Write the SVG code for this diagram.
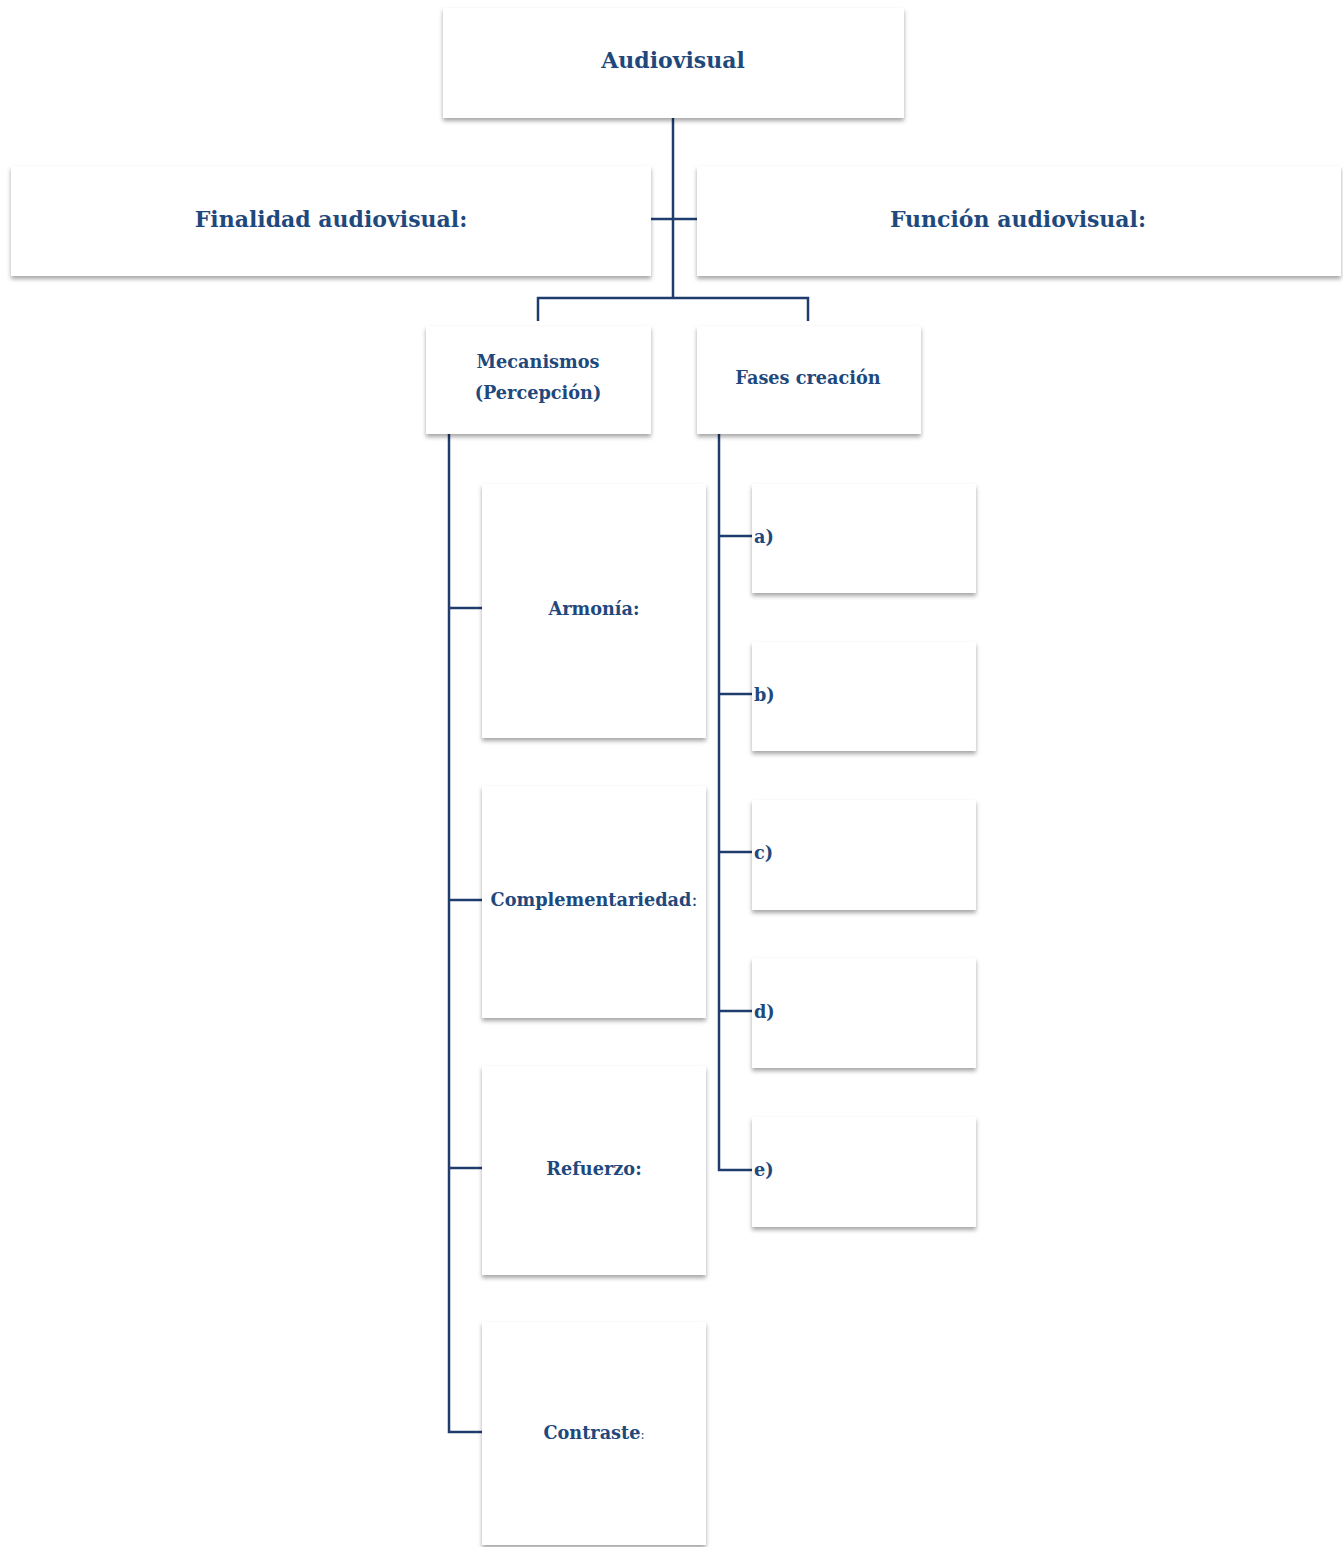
<svg xmlns="http://www.w3.org/2000/svg" width="1343" height="1547" viewBox="0 0 1343 1547">
<style>
.box{fill:#ffffff;filter:url(#sh);}
.t{font-family:"DejaVu Serif","Liberation Serif",serif;font-weight:bold;fill:#1f497d;}
.big{font-size:22px;}
.sm{font-size:17.7px;}
.c{text-anchor:middle;}
.ln{stroke:#1f3c6e;stroke-width:2.5;fill:none;}
.lt{font-weight:normal;}
</style>
<defs>
<filter id="sh" x="-10%" y="-10%" width="120%" height="130%">
<feDropShadow dx="0" dy="3" stdDeviation="2" flood-color="#000" flood-opacity="0.35"/>
</filter>
</defs>
<rect width="1343" height="1547" fill="#ffffff"/>
<g id="connectors">
<path class="ln" d="M673,118 V298"/>
<path class="ln" d="M651,219 H697" stroke-width="2"/>
<path class="ln" d="M538,321 V298 H808 V321"/>
<path class="ln" d="M449,434 V1432 H482"/>
<path class="ln" d="M449,608 H482 M449,900 H482 M449,1168 H482"/>
<path class="ln" d="M719,434 V1170 H752"/>
<path class="ln" d="M719,536 H752 M719,694 H752 M719,852 H752 M719,1011 H752"/>
</g>
<g id="n-audiovisual"><rect class="box" x="443" y="8" width="461" height="110"/><text class="t big c" x="673" y="68">Audiovisual</text></g>
<g id="n-finalidad"><rect class="box" x="11" y="166" width="640" height="110"/><text class="t big c" x="331" y="227">Finalidad audiovisual:</text></g>
<g id="n-funcion"><rect class="box" x="697" y="166" width="644" height="110"/><text class="t big c" x="1018" y="227">Función audiovisual:</text></g>
<g id="n-mecanismos"><rect class="box" x="426" y="326" width="225" height="108"/><text class="t sm c" x="538" y="368">Mecanismos</text><text class="t sm c" x="538" y="399">(Percepción)</text></g>
<g id="n-fases"><rect class="box" x="697" y="326" width="224" height="108"/><text class="t sm c" x="808" y="384">Fases creación</text></g>
<g id="n-armonia"><rect class="box" x="482" y="484" width="224" height="254"/><text class="t sm c" x="594" y="615">Armonía:</text></g>
<g id="n-complementariedad"><rect class="box" x="482" y="786" width="224" height="232"/><text class="t sm c" x="594" y="906">Complementariedad<tspan class="lt">:</tspan></text></g>
<g id="n-refuerzo"><rect class="box" x="482" y="1066" width="224" height="209"/><text class="t sm c" x="594" y="1175">Refuerzo:</text></g>
<g id="n-contraste"><rect class="box" x="482" y="1322" width="224" height="223"/><text class="t sm c" x="594" y="1439">Contraste<tspan class="lt" font-size="12">:</tspan></text></g>
<g id="n-a"><rect class="box" x="752" y="484" width="224" height="109"/><text class="t sm" x="754" y="543">a)</text></g>
<g id="n-b"><rect class="box" x="752" y="642" width="224" height="109"/><text class="t sm" x="754" y="701">b)</text></g>
<g id="n-c"><rect class="box" x="752" y="800" width="224" height="110"/><text class="t sm" x="754" y="859">c)</text></g>
<g id="n-d"><rect class="box" x="752" y="958" width="224" height="110"/><text class="t sm" x="754" y="1018">d)</text></g>
<g id="n-e"><rect class="box" x="752" y="1117" width="224" height="110"/><text class="t sm" x="754" y="1176">e)</text></g>
</svg>
